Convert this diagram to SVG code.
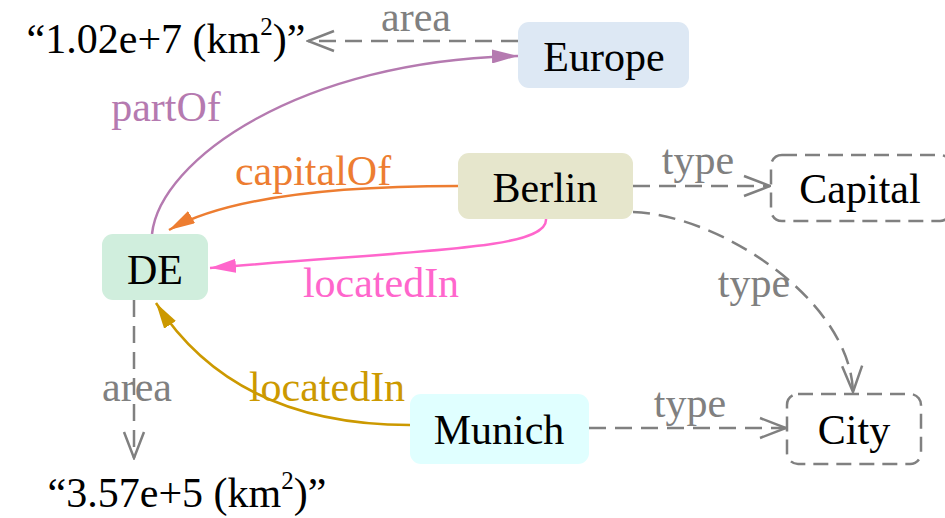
<svg xmlns="http://www.w3.org/2000/svg" width="945" height="518" viewBox="0 0 945 518">
  <style>
    text { font-family: "Liberation Serif", "Times New Roman", serif; font-size: 42px; text-anchor: middle; }
    .node-text { fill: #000; }
    .node { stroke: none; }
    .class-node { fill: #fff; stroke: #808080; stroke-width: 2.5; stroke-dasharray: 15 8; }
    .edge { fill: none; stroke-width: 2.5; }
    .dashed { stroke: #808080; stroke-dasharray: 17 9; marker-end: url(#open); }
    .lbl-gray { fill: #808080; }
    .lbl-purple { fill: #b57ab0; }
    .lbl-orange { fill: #ed7d31; }
    .lbl-pink { fill: #ff66cc; }
    .lbl-gold { fill: #cc9900; }
  </style>
  <defs>
    <marker id="open" markerUnits="userSpaceOnUse" markerWidth="30" markerHeight="24" refX="26" refY="10" orient="auto" viewBox="-2 -2 30 24">
      <path d="M0,0 L26,10 L0,20" fill="none" stroke="#808080" stroke-width="2.5"/>
    </marker>
    <marker id="arr-purple" markerUnits="userSpaceOnUse" markerWidth="26" markerHeight="14" refX="26" refY="7" orient="auto" viewBox="0 0 26 14">
      <path d="M0,0 L26,7 L0,14 z" fill="#b57ab0"/>
    </marker>
    <marker id="arr-orange" markerUnits="userSpaceOnUse" markerWidth="26" markerHeight="14" refX="26" refY="7" orient="auto" viewBox="0 0 26 14">
      <path d="M0,0 L26,7 L0,14 z" fill="#ed7d31"/>
    </marker>
    <marker id="arr-pink" markerUnits="userSpaceOnUse" markerWidth="26" markerHeight="14" refX="26" refY="7" orient="auto" viewBox="0 0 26 14">
      <path d="M0,0 L26,7 L0,14 z" fill="#ff66cc"/>
    </marker>
    <marker id="arr-gold" markerUnits="userSpaceOnUse" markerWidth="26" markerHeight="14" refX="26" refY="7" orient="auto" viewBox="0 0 26 14">
      <path d="M0,0 L26,7 L0,14 z" fill="#cc9900"/>
    </marker>
  </defs>

  <!-- literal values -->
  <g id="lit-europe-area">
    <text x="166" y="53">“1.02e+7 (km<tspan font-size="25" dy="-18">2</tspan><tspan dy="18">)”</tspan></text>
  </g>
  <g id="lit-de-area">
    <text x="187" y="507">“3.57e+5 (km<tspan font-size="25" dy="-18">2</tspan><tspan dy="18">)”</tspan></text>
  </g>

  <!-- connectors -->
  <g id="edges">
    <path class="edge dashed" d="M518,41 L308,41"/>
    <path class="edge" stroke="#b57ab0" marker-end="url(#arr-purple)" d="M152,234 C160,160 300,60 518,56"/>
    <path class="edge" stroke="#ed7d31" marker-end="url(#arr-orange)" d="M458,186 C350,186 230,195 169,230"/>
    <path class="edge" stroke="#ff66cc" marker-end="url(#arr-pink)" d="M546,219 C548,250 420,250 210,268"/>
    <path class="edge dashed" d="M633,186 L770,186"/>
    <path class="edge dashed" d="M633,212 C720,215 850,300 853,392"/>
    <path class="edge dashed" d="M589,428 L786,428"/>
    <path class="edge" stroke="#cc9900" marker-end="url(#arr-gold)" d="M410,425 C310,425 215,395 156,303"/>
    <path class="edge dashed" d="M134,300 L134,458"/>

    <text class="lbl-gray" x="416" y="31">area</text>
    <text class="lbl-purple" x="166" y="121">partOf</text>
    <text class="lbl-orange" x="313" y="185">capitalOf</text>
    <text class="lbl-pink" x="381" y="297">locatedIn</text>
    <text class="lbl-gray" x="698" y="174">type</text>
    <text class="lbl-gray" x="754" y="297">type</text>
    <text class="lbl-gray" x="690" y="417">type</text>
    <text class="lbl-gold" x="327" y="401">locatedIn</text>
    <text class="lbl-gray" x="137" y="401">area</text>
  </g>

  <!-- nodes -->
  <g id="node-europe">
    <rect class="node" x="518" y="22" width="171" height="66" rx="11" fill="#dde8f4"/>
    <text class="node-text" x="604" y="71">Europe</text>
  </g>
  <g id="node-berlin">
    <rect class="node" x="458" y="153" width="175" height="66" rx="11" fill="#e6e6cc"/>
    <text class="node-text" x="545" y="202">Berlin</text>
  </g>
  <g id="node-capital">
    <rect class="class-node" x="771" y="155" width="180" height="66" rx="11"/>
    <text class="node-text" x="860" y="203">Capital</text>
  </g>
  <g id="node-de">
    <rect class="node" x="102" y="234" width="106" height="66" rx="11" fill="#d0eedd"/>
    <text class="node-text" x="155" y="284">DE</text>
  </g>
  <g id="node-munich">
    <rect class="node" x="410" y="394" width="179" height="70" rx="11" fill="#e0ffff"/>
    <text class="node-text" x="499" y="444">Munich</text>
  </g>
  <g id="node-city">
    <rect class="class-node" x="787" y="394" width="134" height="70" rx="11"/>
    <text class="node-text" x="854" y="444">City</text>
  </g>
</svg>
